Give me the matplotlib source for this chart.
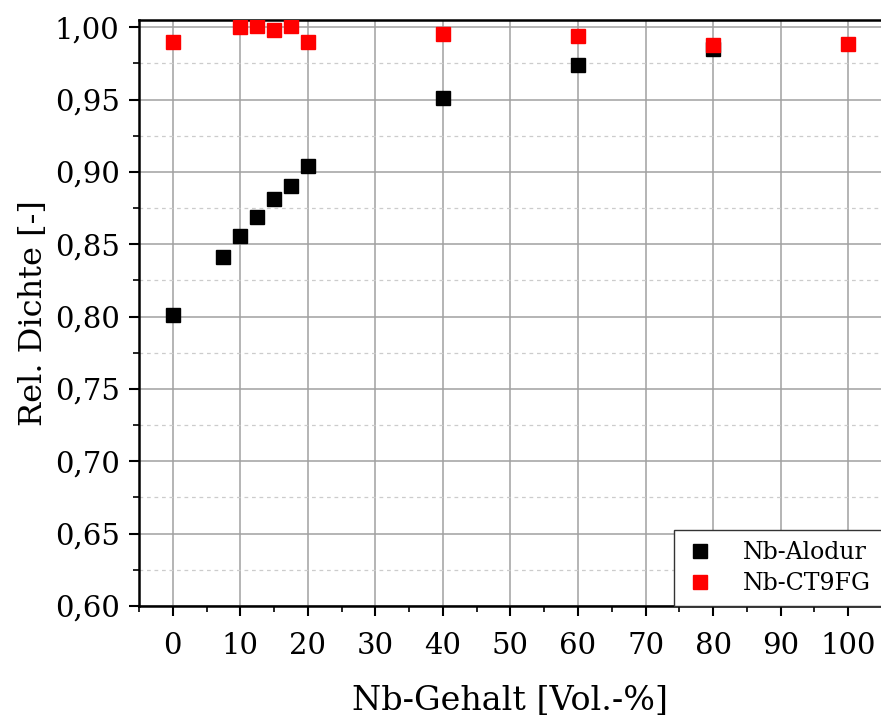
"""Relative Dichte vs. Nb-Gehalt"""
import matplotlib
matplotlib.use("Agg")
import matplotlib.pyplot as plt
from matplotlib.ticker import MultipleLocator, FuncFormatter

alodur_x = [0, 7.5, 10, 12.5, 15, 17.5, 20, 40, 60, 80]
alodur_y = [0.801, 0.841, 0.856, 0.869, 0.881, 0.890, 0.904, 0.951, 0.974, 0.985]

ct9fg_x = [0, 10, 12.5, 15, 17.5, 20, 40, 60, 80, 100]
ct9fg_y = [0.990, 1.000, 1.001, 0.998, 1.0007, 0.990, 0.995, 0.9936, 0.988, 0.9887]

x_ticks = [0, 10, 20, 30, 40, 50, 60, 70, 80, 90, 100]

plt.rcParams["font.family"] = ["DejaVu Serif"]

fig = plt.figure(figsize=(8.81, 7.19), dpi=100)
ax = fig.add_axes([0.1578, 0.1572, 0.8433, 0.815])

ax.plot(alodur_x, alodur_y, "s", color="black", ms=9.5, label="Nb-Alodur", zorder=3)
ax.plot(ct9fg_x, ct9fg_y, "s", color="red", ms=9.5, label="Nb-CT9FG", zorder=3)

ax.set_xlim(-5, 105)
ax.set_ylim(0.60, 1.005)
ax.set_xticks(x_ticks)
ax.xaxis.set_minor_locator(MultipleLocator(5))
ax.yaxis.set_major_locator(MultipleLocator(0.05))
ax.yaxis.set_minor_locator(MultipleLocator(0.025))
ax.yaxis.set_major_formatter(FuncFormatter(lambda v, _: f"{v:.2f}".replace(".", ",")))

ax.grid(which="major", color="#a0a0a0", lw=1.1)
ax.grid(which="minor", axis="y", color="#cccccc", lw=0.9, ls=(0, (3, 3)))
ax.set_axisbelow(True)

ax.tick_params(which="major", direction="out", length=7, width=1.5, labelsize=21, pad=7)
ax.tick_params(axis="x", which="major", pad=12)
ax.tick_params(which="minor", direction="out", length=4, width=1.2)
for side in ["left", "bottom", "top", "right"]:
    ax.spines[side].set_linewidth(1.8)

ax.set_xlabel("Nb-Gehalt [Vol.-%]", fontsize=24, labelpad=18)
ax.set_ylabel("Rel. Dichte [-]", fontsize=23, labelpad=4)

leg = ax.legend(loc="lower right", fontsize=17, frameon=True, fancybox=False,
                edgecolor="#333333", framealpha=1, borderaxespad=0, handletextpad=1.2,
                borderpad=0.45, handlelength=1.3, labelspacing=0.35)
leg.get_frame().set_linewidth(1.0)

fig.savefig("out.png", dpi=100)
